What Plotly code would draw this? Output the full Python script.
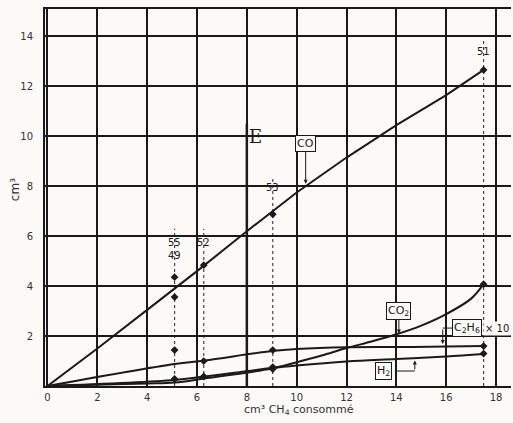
import plotly.graph_objects as go

# ---- data ----
co_x = [0, 2, 4, 6, 8, 10, 12, 14, 16, 17.5]
co_y = [0, 1.5, 3.05, 4.6, 6.2, 7.75, 9.15, 10.45, 11.65, 12.66]

co2_x = [0, 2, 4, 5.1, 6.3, 9, 10, 11, 12, 13, 14, 15, 16, 17, 17.5]
co2_y = [0, 0.05, 0.1, 0.14, 0.3, 0.7, 0.95, 1.22, 1.52, 1.78, 2.07, 2.42, 2.88, 3.5, 4.08]

h2_x = [0, 5.1, 6.3, 9, 10, 12, 14, 16, 17.5]
h2_y = [0, 0.24, 0.38, 0.72, 0.82, 0.98, 1.08, 1.18, 1.28]

c2h6_x = [0, 5.1, 6.3, 9, 10, 12, 14, 16, 17.5]
c2h6_y = [0, 0.88, 1.02, 1.4, 1.48, 1.55, 1.56, 1.58, 1.6]

# experimental points (experiment numbers 55/49, 52, 53, 51)
exp_x = [5.1, 5.1, 5.1, 5.1, 6.27, 6.27, 6.27, 9.04, 9.04, 9.04, 9.04, 17.5, 17.5, 17.5, 17.5]
exp_y = [4.36, 3.56, 1.44, 0.28, 4.84, 1.0, 0.38, 6.88, 1.44, 0.76, 0.68, 12.66, 4.08, 1.6, 1.3]

exp_labels = ["55<br>49", "52", "53", "51"]
exp_label_x = [5.1, 6.27, 9.04, 17.5]
exp_label_y = [5.5, 5.75, 7.95, 13.4]
exp_line_top = [6.3, 6.3, 8.3, 13.9]

x_ticks = [0, 2, 4, 6, 8, 10, 12, 14, 16, 18]
y_ticks = [2, 4, 6, 8, 10, 12, 14]

E_x = 8
E_top = 10.5

INK = "#1a1a1a"
BG = "#fbfaf6"

fig = go.Figure()
for xs, ys, shape in [(co_x, co_y, "linear"), (co2_x, co2_y, "spline"),
                      (h2_x, h2_y, "spline"), (c2h6_x, c2h6_y, "spline")]:
    fig.add_trace(go.Scatter(x=xs, y=ys, mode="lines", line=dict(color=INK, width=2, shape=shape),
                             showlegend=False, hoverinfo="skip"))

fig.add_trace(go.Scatter(x=exp_x, y=exp_y, mode="markers",
                         marker=dict(symbol="diamond", size=6, color=INK),
                         showlegend=False, hoverinfo="skip"))

shapes = []
for xv, top in zip(exp_label_x, exp_line_top):
    shapes.append(dict(type="line", x0=xv, x1=xv, y0=0, y1=top, xref="x", yref="y",
                       line=dict(color="#444", width=1.2, dash="dot"), layer="below"))
shapes.append(dict(type="line", x0=E_x, x1=E_x, y0=0, y1=E_top, xref="x", yref="y",
                   line=dict(color=INK, width=2.5)))
# leaders for C2H6 and H2 labels
shapes.append(dict(type="line", x0=16.27, x1=15.86, y0=2.32, y1=2.32, xref="x", yref="y",
                   line=dict(color=INK, width=1)))
shapes.append(dict(type="line", x0=14.0, x1=14.74, y0=0.6, y1=0.6, xref="x", yref="y",
                   line=dict(color=INK, width=1)))

annotations = []
for t, xv, yv in zip(exp_labels, exp_label_x, exp_label_y):
    annotations.append(dict(x=xv, y=yv, text=t, showarrow=False, xref="x", yref="y",
                            font=dict(family="DejaVu Sans", size=10, color=INK)))

box_font = dict(family="DejaVu Sans", size=11, color=INK)
annotations += [
    dict(x=10.36, y=8.1, ax=10.36, ay=9.72, axref="x", ayref="y", xref="x", yref="y",
         text="CO", showarrow=True, arrowhead=2, arrowsize=0.8, arrowwidth=1, arrowcolor=INK,
         bordercolor=INK, borderwidth=1, borderpad=1, bgcolor=BG, font=box_font),
    dict(x=14.1, y=2.1, ax=14.1, ay=3.0, axref="x", ayref="y", xref="x", yref="y",
         text="CO<sub>2</sub>", showarrow=True, arrowhead=2, arrowsize=0.8, arrowwidth=1,
         arrowcolor=INK, bordercolor=INK, borderwidth=1, borderpad=1, bgcolor=BG,
         font=box_font),
    dict(x=16.85, y=2.32, xref="x", yref="y", text="C<sub>2</sub>H<sub>6</sub>", showarrow=False,
         bordercolor=INK, borderwidth=1, borderpad=1, bgcolor=BG, font=box_font),
    dict(x=18.05, y=2.32, xref="x", yref="y", text="× 10", showarrow=False,
         bgcolor=BG, font=dict(family="DejaVu Sans", size=10, color=INK)),
    dict(x=15.86, y=1.68, ax=15.86, ay=2.32, axref="x", ayref="y", xref="x", yref="y",
         text="", showarrow=True, arrowhead=2, arrowsize=0.8, arrowwidth=1, arrowcolor=INK),
    dict(x=13.5, y=0.6, xref="x", yref="y", text="H<sub>2</sub>", showarrow=False,
         bordercolor=INK, borderwidth=1, borderpad=1, bgcolor=BG, font=box_font),
    dict(x=14.74, y=1.02, ax=14.74, ay=0.6, axref="x", ayref="y", xref="x", yref="y",
         text="", showarrow=True, arrowhead=2, arrowsize=0.8, arrowwidth=1, arrowcolor=INK),
    dict(x=E_x, y=E_top, xref="x", yref="y", text="E", showarrow=False, xanchor="left",
         yanchor="top", font=dict(family="DejaVu Serif", size=18, color=INK)),
    dict(x=0.545, y=-0.064, xref="paper", yref="paper", text="cm³ CH<sub>4</sub> consommé",
         showarrow=False, xanchor="center", yanchor="middle",
         font=dict(family="DejaVu Sans", size=11, color="#333")),
    dict(x=-0.064, y=0.52, xref="paper", yref="paper", text="cm³", textangle=-90,
         showarrow=False, xanchor="center", yanchor="middle",
         font=dict(family="DejaVu Sans", size=12, color="#333")),
]

axis_common = dict(showgrid=True, gridcolor=INK, gridwidth=1.5, zeroline=False,
                   showline=True, linecolor=INK, linewidth=2,
                   tickfont=dict(family="DejaVu Sans", size=10, color="#333"),
                   ticks="outside", tickcolor="rgba(0,0,0,0)")

fig.update_layout(
    width=513, height=423,
    margin=dict(l=45, r=2, t=9, b=37, autoexpand=False),
    paper_bgcolor=BG, plot_bgcolor=BG,
    xaxis=dict(range=[-0.1, 18.6], tickvals=x_ticks, ticklen=1, mirror=True, **axis_common),
    yaxis=dict(range=[0, 15.1], tickvals=y_ticks, ticklen=8, **axis_common),
    shapes=shapes, annotations=annotations, showlegend=False,
)

fig.write_html("out.html", config={"displayModeBar": False},
               post_script="document.body.style.margin='0px';document.body.style.overflow='hidden';")
